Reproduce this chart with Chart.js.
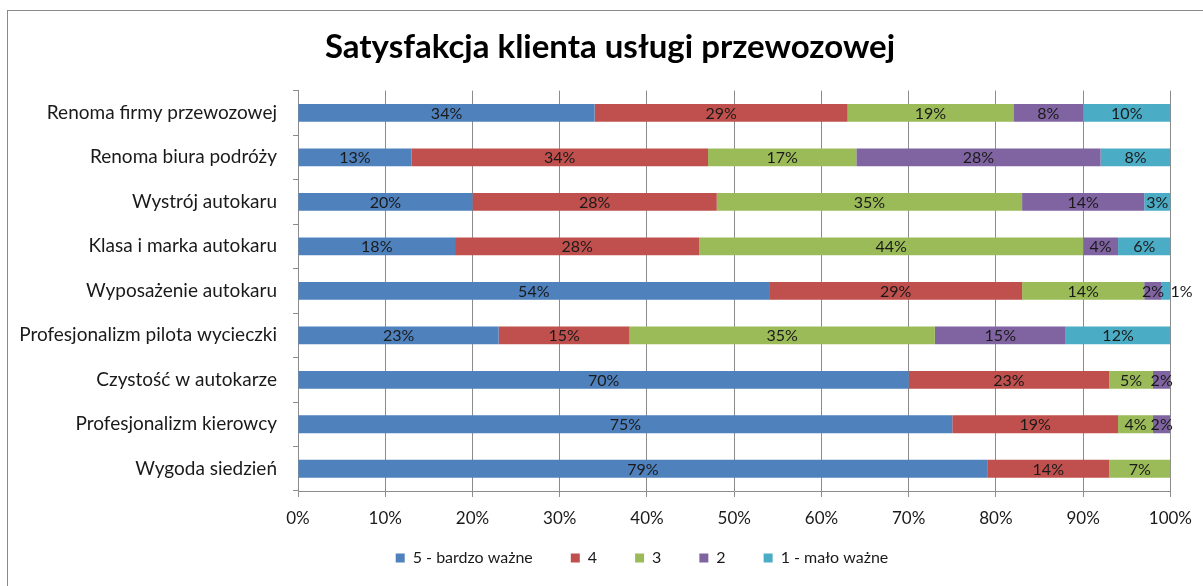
<!DOCTYPE html>
<html lang="pl">
<head>
  <meta charset="UTF-8">
  <title>Satysfakcja klienta usługi przewozowej</title>
  <script src="https://cdn.jsdelivr.net/npm/chart.js"></script>
  <style>
    html, body { margin: 0; padding: 0; background: #fff; overflow: hidden; }
    .frame { position: absolute; left: 7px; top: 10px; width: 1300px; height: 700px; border: 1px solid #8a8a8a; }
    #chartCanvas { position: absolute; left: 0; top: 0; }
  </style>
</head>
<body>
  <div class="frame"></div>
  <canvas id="chartCanvas" width="1203" height="586"></canvas>

  <script>
    const categories = ["Renoma firmy przewozowej", "Renoma biura podróży", "Wystrój autokaru",
      "Klasa i marka autokaru", "Wyposażenie autokaru", "Profesjonalizm pilota wycieczki",
      "Czystość w autokarze", "Profesjonalizm kierowcy", "Wygoda siedzień"];

    const score5 = [34, 13, 20, 18, 54, 23, 70, 75, 79];
    const score4 = [29, 34, 28, 28, 29, 15, 23, 19, 14];
    const score3 = [19, 17, 35, 44, 14, 35, 5, 4, 7];
    const score2 = [8, 28, 14, 4, 2, 15, 2, 2, 0];
    const score1 = [10, 8, 3, 6, 1, 12, 0, 0, 0];

    const seriesNames = ["5 - bardzo ważne", "4", "3", "2", "1 - mało ważne"];
    const seriesColors = ["#4F81BD", "#C0504D", "#9BBB59", "#8064A2", "#4BACC6"];
    const xTicks = [0, 10, 20, 30, 40, 50, 60, 70, 80, 90, 100];

    const FONT = "Lato, 'Open Sans', sans-serif";

    // etykiety wartości na środku segmentu (za wąski ostatni segment -> etykieta za słupkiem)
    const barLabels = {
      id: "barLabels",
      afterDatasetsDraw(chart) {
        const ctx = chart.ctx;
        const last = chart.data.datasets.length - 1;
        ctx.save();
        ctx.font = "16px " + FONT;
        ctx.fillStyle = "#1a1a1a";
        ctx.textBaseline = "middle";
        chart.data.datasets.forEach((ds, di) => {
          chart.getDatasetMeta(di).data.forEach((bar, i) => {
            const v = ds.data[i];
            if (!v) return;
            const txt = v + "%";
            const w = Math.abs(bar.x - bar.base);
            if (di === last && w < ctx.measureText(txt).width * 0.6) {
              ctx.textAlign = "left";
              ctx.fillText(txt, bar.x, bar.y + 1);
            } else {
              ctx.textAlign = "center";
              ctx.fillText(txt, (bar.x + bar.base) / 2, bar.y + 1);
            }
          });
        });
        ctx.restore();
      }
    };

    // przesunięcie tytułu i legendy, jak w oryginale
    const boxShift = {
      id: "boxShift",
      afterLayout(chart) {
        if (chart.titleBlock) {
          chart.titleBlock.left += 17;
          chart.titleBlock.right += 17;
        }
        if (chart.legend) {
          chart.legend.left += 49;
          chart.legend.right += 49;
          chart.legend.top -= 16;
          chart.legend.bottom -= 16;
        }
      }
    };

    const datasets = [score5, score4, score3, score2, score1].map((data, i) => ({
      label: seriesNames[i],
      data: data,
      backgroundColor: seriesColors[i],
      borderWidth: 0,
      categoryPercentage: 1,
      barPercentage: 0.4
    }));

    const ctx = document.getElementById("chartCanvas").getContext("2d");
    new Chart(ctx, {
      type: "bar",
      data: { labels: categories, datasets },
      plugins: [barLabels, boxShift],
      options: {
        indexAxis: "y",
        responsive: false,
        animation: false,
        events: [],
        layout: { padding: { left: 8, right: 25, top: 0, bottom: 0 } },
        plugins: {
          title: {
            display: true,
            text: "Satysfakcja klienta usługi przewozowej",
            color: "#000",
            font: { family: FONT, size: 33, weight: "bold" },
            padding: { top: 28, bottom: 23 }
          },
          legend: {
            position: "bottom",
            maxHeight: 58,
            labels: {
              boxWidth: 9,
              boxHeight: 9,
              padding: 38,
              color: "#1a1a1a",
              font: { family: FONT, size: 16 }
            }
          },
          tooltip: { enabled: false }
        },
        scales: {
          x: {
            stacked: true,
            min: 0,
            max: 100,
            afterFit: s => { s.height = 37; },
            afterBuildTicks: s => { s.ticks = xTicks.map(v => ({ value: v })); },
            ticks: {
              padding: 11,
              color: "#1a1a1a",
              font: { family: FONT, size: 17 },
              callback: v => v + "%"
            },
            grid: { color: "#8c8c8c", tickLength: 6 },
            border: { color: "#8c8c8c" }
          },
          y: {
            stacked: true,
            afterFit: s => { s.width = 290; },
            ticks: {
              padding: 16,
              color: "#1a1a1a",
              font: { family: FONT, size: 19 }
            },
            grid: { drawOnChartArea: false, color: "#8c8c8c", tickLength: 5 },
            border: { color: "#8c8c8c" }
          }
        }
      }
    });
  </script>
</body>
</html>
